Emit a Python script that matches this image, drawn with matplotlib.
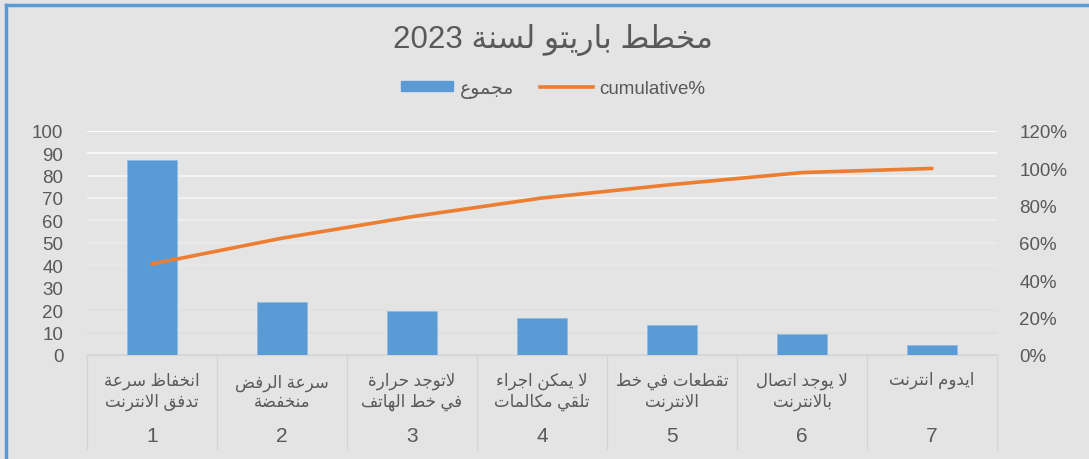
import re

import matplotlib
matplotlib.use("Agg")
import matplotlib.pyplot as plt
import matplotlib.transforms as mtransforms
import numpy as np
from matplotlib.lines import Line2D
from matplotlib.patches import Patch

# chart data
title = "مخطط باريتو لسنة 2023"
bar_name = "مجموع"
line_name = "cumulative%"
categories = [
    "انخفاظ سرعة\nتدفق الانترنت",
    "سرعة الرفض\nمنخفضة",
    "لاتوجد حرارة\nفي خط الهاتف",
    "لا يمكن اجراء\nتلقي مكالمات",
    "تقطعات في خط\nالانترنت",
    "لا يوجد اتصال\nبالانترنت",
    "ايدوم انترنت",
]
group_labels = ["1", "2", "3", "4", "5", "6", "7"]
counts = [86.8, 23.5, 19.8, 16.5, 13.4, 9.4, 4.5]
cumulative = [0.487, 0.625, 0.74, 0.84, 0.912, 0.976, 0.998]
left_ticks = list(range(0, 101, 10))
right_ticks = [0, 0.2, 0.4, 0.6, 0.8, 1.0, 1.2]

BG = "#e4e4e4"
BAR = "#5b9bd5"
LINE = "#ed7d31"
TXT = "#595959"

# matplotlib has no arabic shaping, so pick the presentation forms by hand
_JOIN = [
    ("ء", 0xFE80, 1), ("آ", 0xFE81, 2), ("أ", 0xFE83, 2), ("ؤ", 0xFE85, 2),
    ("إ", 0xFE87, 2), ("ئ", 0xFE89, 4), ("ا", 0xFE8D, 2), ("ب", 0xFE8F, 4),
    ("ة", 0xFE93, 2), ("ت", 0xFE95, 4), ("ث", 0xFE99, 4), ("ج", 0xFE9D, 4),
    ("ح", 0xFEA1, 4), ("خ", 0xFEA5, 4), ("د", 0xFEA9, 2), ("ذ", 0xFEAB, 2),
    ("ر", 0xFEAD, 2), ("ز", 0xFEAF, 2), ("س", 0xFEB1, 4), ("ش", 0xFEB5, 4),
    ("ص", 0xFEB9, 4), ("ض", 0xFEBD, 4), ("ط", 0xFEC1, 4), ("ظ", 0xFEC5, 4),
    ("ع", 0xFEC9, 4), ("غ", 0xFECD, 4), ("ف", 0xFED1, 4), ("ق", 0xFED5, 4),
    ("ك", 0xFED9, 4), ("ل", 0xFEDD, 4), ("م", 0xFEE1, 4), ("ن", 0xFEE5, 4),
    ("ه", 0xFEE9, 4), ("و", 0xFEED, 2), ("ى", 0xFEEF, 2), ("ي", 0xFEF1, 4),
    ("\uFEFB", 0xFEFB, 2),
]
FORMS = {ch: (base, n) for ch, base, n in _JOIN}


def _shape_line(text):
    text = text.replace("لا", "\uFEFB")
    out = []
    for i, ch in enumerate(text):
        if ch not in FORMS:
            out.append(ch)
            continue
        base, n = FORMS[ch]
        prev = text[i - 1] if i > 0 else ""
        nxt = text[i + 1] if i + 1 < len(text) else ""
        join_prev = n >= 2 and prev in FORMS and FORMS[prev][1] == 4
        join_next = n == 4 and nxt in FORMS and FORMS[nxt][1] >= 2
        if join_prev and join_next:
            off = 3
        elif join_prev:
            off = 1
        elif join_next:
            off = 2
        else:
            off = 0
        out.append(chr(base + off))
    # right-to-left display, keeping latin/digit runs in reading order
    vis = "".join(out)[::-1]
    return re.sub(r"[0-9A-Za-z%]+", lambda m: m.group(0)[::-1], vis)


def ar(text):
    return "\n".join(_shape_line(line) for line in text.split("\n"))


plt.rcParams["font.family"] = ["Liberation Sans", "DejaVu Sans"]

fig = plt.figure(figsize=(10.89, 4.60), dpi=100, facecolor=BG)
ax = fig.add_axes([87 / 1089, 104 / 460, 910 / 1089, 224.3 / 460])
ax.set_facecolor(BG)

x = np.arange(len(categories))
ax.bar(x, counts, width=0.39, color=BAR, edgecolor="#8fbbe3", linewidth=0.6, zorder=3)
ax.set_xlim(-0.5, len(categories) - 0.5)
ax.set_ylim(0, 100)
ax.set_yticks(left_ticks)
ax.set_xticks([])
ax.tick_params(axis="y", length=0, pad=17, labelsize=13.5, labelcolor=TXT)
for s in ["left", "right", "top"]:
    ax.spines[s].set_visible(False)
ax.spines["bottom"].set_color("#d4d4d4")
ax.grid(axis="y", linewidth=1.2, zorder=0)
grid = ax.get_ygridlines()
for i, gl in enumerate(grid):
    frac = i / (len(grid) - 1)
    c = 0.85 + 0.15 * frac
    gl.set_color((c, c, c))

ax2 = ax.twinx()
ax2.plot(x, cumulative, color=LINE, linewidth=2.6, solid_capstyle="round", zorder=4)
ax2.set_ylim(0, 1.2)
ax2.set_yticks(right_ticks)
ax2.set_yticklabels([f"{int(round(t * 100))}%" for t in right_ticks])
ax2.tick_params(axis="y", length=0, pad=16, labelsize=13.5, labelcolor=TXT)
for s in ax2.spines.values():
    s.set_visible(False)

# two-level category axis below the plot
trans = mtransforms.blended_transform_factory(ax.transData, ax.transAxes)
for b in np.arange(len(categories) + 1) - 0.5:
    ax.plot([b, b], [0, -0.42], transform=trans, clip_on=False,
            color="#d4d4d4", linewidth=0.9)
for xi, cat, num in zip(x, categories, group_labels):
    ax.text(xi, -0.16 if "\n" in cat else -0.11, ar(cat), transform=trans,
            ha="center", va="center", fontsize=12, color=TXT, linespacing=1.25)
    ax.text(xi, -0.36, num, transform=trans, ha="center", va="center",
            fontsize=15, color=TXT)

fig.text(0.508, 0.913, ar(title), ha="center", va="center", fontsize=22.5, color=TXT)

handles = [Patch(facecolor=BAR, edgecolor=BAR),
           Line2D([], [], color=LINE, linewidth=2.6)]
fig.legend(handles, [ar(bar_name), line_name], loc="center", ncol=2,
           bbox_to_anchor=(0.508, 0.805), frameon=False, fontsize=13.5,
           labelcolor=TXT, handlelength=2.8, handleheight=0.5,
           columnspacing=1.4, handletextpad=0.35)

# blue selection frame on the left and top edges
fig.add_artist(Line2D([6 / 1089, 6 / 1089], [0, 1 - 6 / 460], color=BAR, linewidth=2.5))
fig.add_artist(Line2D([6 / 1089, 1], [1 - 6 / 460, 1 - 6 / 460], color=BAR, linewidth=2.5))

fig.savefig("out.png", dpi=100, facecolor=BG)
